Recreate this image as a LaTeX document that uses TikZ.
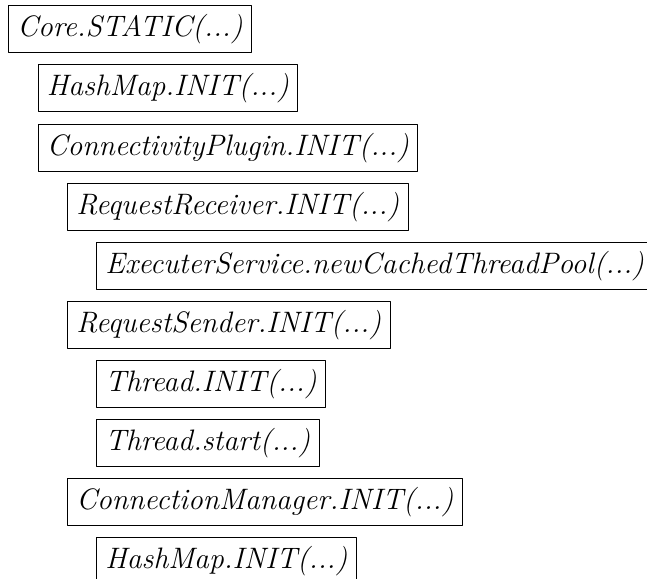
\documentclass[tikz,border=0pt]{standalone}

\tikzset{callbox/.style={draw,anchor=north west,inner xsep=3.5pt,inner ysep=3.5pt,font=\fontsize{11.6}{14}\selectfont\itshape,line width=0.4pt}}

\begin{document}
\begin{tikzpicture}[line cap=round,line join=round]
  \useasboundingbox (0,0) rectangle (8.92,-7.98);
  \node[callbox] (core) at (0.11,-0.069) {Core.STATIC(...)};
  \node[callbox] (hashmap) at (0.517,-0.882) {HashMap.INIT(...)};
  \node[callbox] (plugin) at (0.517,-1.709) {ConnectivityPlugin.INIT(...)};
  \node[callbox] (receiver) at (0.923,-2.522) {RequestReceiver.INIT(...)};
  \node[callbox] (executer) at (1.323,-3.335) {ExecuterService.newCachedThreadPool(...)};
  \node[callbox] (sender) at (0.923,-4.148) {RequestSender.INIT(...)};
  \node[callbox] (thrinit) at (1.323,-4.961) {Thread.INIT(...)};
  \node[callbox] (thrstart) at (1.323,-5.774) {Thread.start(...)};
  \node[callbox] (connmgr) at (0.923,-6.587) {ConnectionManager.INIT(...)};
  \node[callbox] (hashmapb) at (1.323,-7.400) {HashMap.INIT(...)};
\end{tikzpicture}
\end{document}
